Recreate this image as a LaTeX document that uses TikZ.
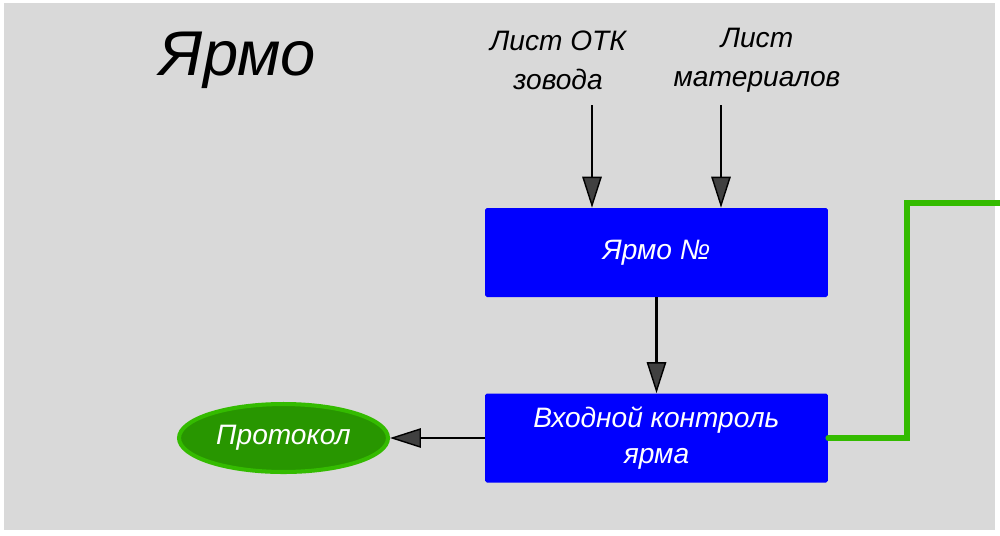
\documentclass[tikz,border=0pt]{standalone}
\usepackage{fontspec}
\setmainfont{Liberation Sans}
\usepackage{tikz}
\usetikzlibrary{arrows.meta,shapes.geometric}
\definecolor{panelGray}{RGB}{217,217,217}
\definecolor{boxBlue}{RGB}{0,0,255}
\definecolor{ovalGreen}{RGB}{40,150,0}
\definecolor{rimGreen}{RGB}{52,187,0}

\begin{document}
\begin{tikzpicture}[x=0.02cm,y=-0.02cm,
	flowArrow/.style={line width=1.4pt,-{Triangle[length=6.2mm,width=3.9mm,fill=black!75,line width=0.8pt]}},
	blueBox/.style={fill=boxBlue,rounded corners=1pt,minimum width=6.86cm,minimum height=1.78cm,
		text=white,align=center,font=\itshape\fontsize{16}{21}\selectfont},
	inLabel/.style={align=center,font=\itshape\fontsize{16}{22}\selectfont}]
	% panel
	\useasboundingbox (0,0) rectangle (1000,535);
	\fill[panelGray] (4,3) rectangle (995,530);

	% title and input sheets
	\node (title) at (238,60) {\itshape\fontsize{36}{40}\selectfont Ярмо};
	\node[inLabel] (lbl_otk) at (558,60) {Лист ОТК\\зовода};
	\node[inLabel] (lbl_mat) at (757,60) {Лист\\материалов};
	\coordinate (otk_start) at (592,105);
	\coordinate (mat_start) at (721,105);

	% blocks
	\node[blueBox] (box_yarmo) at (656.5,252.5) {Ярмо №};
	\node[blueBox] (box_control) at (656.5,438) {Входной контроль\\ярма};
	\node[ellipse,fill=ovalGreen,draw=rimGreen,line width=2.3pt,minimum width=4.18cm,
		minimum height=1.36cm,text=white,font=\itshape\fontsize{16}{20}\selectfont]
		(protocol) at (283.5,438) {Протокол};
	\coordinate (green_bend) at (907,203);
	\coordinate (green_end) at (1000,203);

	% connectors
	\draw[flowArrow] (otk_start) -- (otk_start |- box_yarmo.north);
	\draw[flowArrow] (mat_start) -- (mat_start |- box_yarmo.north);
	\draw[flowArrow] (box_yarmo.south) -- (box_control.north);
	\draw[flowArrow] (box_control.west) -- (protocol.east);
	\draw[rimGreen,line width=3.3pt,line cap=round] (box_control.east) -| (green_bend) -- (green_end);
\end{tikzpicture}
\end{document}
